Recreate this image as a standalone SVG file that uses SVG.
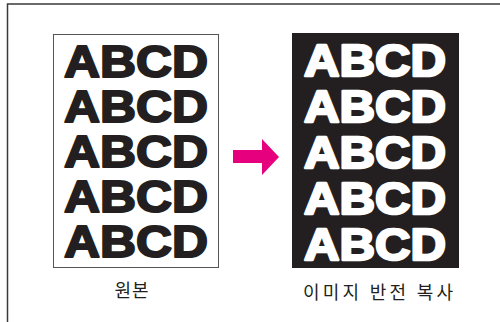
<svg xmlns="http://www.w3.org/2000/svg" width="500" height="322" viewBox="0 0 500 322">
<style>
.abc{font-family:"Liberation Sans",Arial,sans-serif;font-weight:bold;stroke-linejoin:round;font-size:44px}
.dark{fill:#231f20;stroke:#231f20;stroke-width:2}
.light{fill:#ffffff;stroke:#ffffff;stroke-width:2.4}
.lbl{font-family:"Noto Sans CJK KR","Noto Sans",sans-serif;font-size:18px;fill:#231f20}
</style>
<rect width="500" height="322" fill="#ffffff"/>
<path d="M7.5 322 V4 H500" fill="none" stroke="#3a3a3a" stroke-width="1.5"/>
<g id="original">
<rect x="53.5" y="34.5" width="165" height="233" fill="#ffffff" stroke="#555555" stroke-width="1"/>
<g class="abc dark">
<text x="64" y="77" textLength="144" lengthAdjust="spacingAndGlyphs">ABCD</text>
<text x="64" y="122" textLength="144" lengthAdjust="spacingAndGlyphs">ABCD</text>
<text x="64" y="167" textLength="144" lengthAdjust="spacingAndGlyphs">ABCD</text>
<text x="64" y="212" textLength="144" lengthAdjust="spacingAndGlyphs">ABCD</text>
<text x="64" y="257" textLength="144" lengthAdjust="spacingAndGlyphs">ABCD</text>
</g>
<text class="lbl" x="132" y="297" text-anchor="middle" letter-spacing="1">원본</text>
</g>
<g id="connectors">
<polygon points="233,150 262,150 262,139 279,157 262,175 262,163 233,163" fill="#e6007e"/>
</g>
<g id="inverted">
<rect x="292" y="33" width="167" height="235" fill="#231f20"/>
<g class="abc light">
<text x="304" y="76" textLength="142" lengthAdjust="spacingAndGlyphs">ABCD</text>
<text x="304" y="122" textLength="142" lengthAdjust="spacingAndGlyphs">ABCD</text>
<text x="304" y="168" textLength="142" lengthAdjust="spacingAndGlyphs">ABCD</text>
<text x="304" y="214" textLength="142" lengthAdjust="spacingAndGlyphs">ABCD</text>
<text x="304" y="260" textLength="142" lengthAdjust="spacingAndGlyphs">ABCD</text>
</g>
<text class="lbl" x="303" y="299" textLength="150" lengthAdjust="spacing">이미지 반전 복사</text>
</g>
</svg>
